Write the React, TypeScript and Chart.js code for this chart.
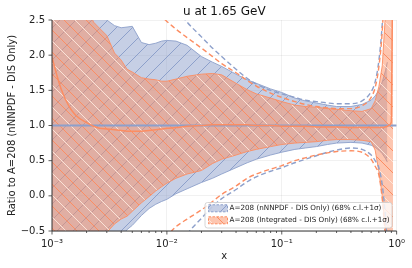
import React, { useEffect, useRef } from 'react';
import { Chart, registerables } from 'chart.js';

Chart.register(...registerables);

const BLUE = '#8da0cb';
const ORANGE = '#fc8d62';
const FONT = '"DejaVu Sans", sans-serif';

const titleText = 'u at 1.65 GeV';
const yTitle = 'Ratio to A=208 (nNNPDF - DIS Only)';
const xTitle = 'x';
const legendLabels = [
  'A=208 (nNNPDF - DIS Only) (68% c.l.+1σ)',
  'A=208 (Integrated - DIS Only) (68% c.l.+1σ)',
];
const xTickValues = [0.001, 0.01, 0.1, 1];
const xTickLabels = ['10⁻³', '10⁻²', '10⁻¹', '10⁰'];
const minorMultipliers = [2, 3, 4, 5, 6, 7, 8, 9];

const xs = [0.001, 0.0011, 0.0012, 0.0014, 0.0016, 0.002, 0.0023, 0.0026, 0.003, 0.0035,
  0.004, 0.0045, 0.005, 0.006, 0.007, 0.008, 0.009, 0.01, 0.012, 0.015,
  0.02, 0.025, 0.03, 0.04, 0.05, 0.06, 0.08, 0.1, 0.13, 0.16,
  0.2, 0.25, 0.3, 0.4, 0.5, 0.6, 0.65, 0.7, 0.75, 0.8,
  0.83, 0.85, 0.9, 0.93, 1.0];

// nNNPDF band (68% c.l.)
const nnUp = [3.2, 3.2, 3.1, 3.0, 2.9, 2.7, 2.6, 2.55, 2.5, 2.42,
  2.39, 2.4, 2.41, 2.18, 2.15, 2.17, 2.2, 2.21, 2.2, 2.14,
  1.98, 1.9, 1.84, 1.73, 1.65, 1.6, 1.52, 1.47, 1.39, 1.35,
  1.32, 1.29, 1.27, 1.27, 1.3, 1.36, 1.42, 1.5, 1.62, 1.78,
  1.9, null, null, null, null];
const nnLo = [-1, -1, -1, -1, -1, -1, -1, -1, -0.9, -0.7,
  -0.6, -0.48, -0.42, -0.28, -0.18, -0.12, -0.08, -0.05, 0.03, 0.1,
  0.19, 0.25, 0.31, 0.4, 0.47, 0.52, 0.58, 0.62, 0.66, 0.68,
  0.7, 0.73, 0.75, 0.76, 0.75, 0.72, 0.69, 0.65, 0.6, 0.53,
  0.48, null, null, null, null];
const nnCentral = [1, 1, 1, 1, 1, 1, 1, 1, 1, 1,
  1, 1, 1, 1, 1, 1, 1, 1, 1, 1,
  1, 1, 1, 1, 1, 1, 1, 1, 1, 1,
  1, 1, 1, 1, 1, 1, 1, 1, 1, 1,
  1, 1, 1, 1, 1];
// nNNPDF +1 sigma
const nnUpSig = [null, null, null, null, null, null, null, null, null, null,
  null, null, null, null, null, 3.12, 2.98, 2.85, 2.68, 2.47,
  2.26, 2.1, 1.98, 1.8, 1.67, 1.59, 1.5, 1.45, 1.4, 1.36,
  1.34, 1.32, 1.31, 1.31, 1.35, 1.48, 1.62, 1.92, 2.45, 3.3,
  null, null, null, null, null];
const nnLoSig = [null, null, null, null, null, null, null, null, null, null,
  null, null, null, null, null, null, null, null, -0.85, -0.55,
  -0.32, -0.15, -0.04, 0.09, 0.2, 0.27, 0.35, 0.4, 0.47, 0.52,
  0.57, 0.62, 0.65, 0.68, 0.66, 0.58, 0.5, 0.4, 0.15, -0.3,
  -0.7, null, null, null, null];

// Integrated band (68% c.l.)
const intUp = [3.5, 3.4, 3.3, 3.1, 2.95, 2.7, 2.47, 2.38, 2.28, 2.03,
  1.93, 1.8, 1.76, 1.68, 1.66, 1.65, 1.63, 1.63, 1.66, 1.7,
  1.73, 1.74, 1.72, 1.6, 1.51, 1.45, 1.39, 1.34, 1.29, 1.27,
  1.26, 1.24, 1.23, 1.21, 1.2, 1.24, 1.35, 1.55, 1.85, 2.6,
  3.5, 4, 4, 4, null];
const intLo = [-1, -1, -1, -1, -1, -1, -1, -1, -0.52, -0.4,
  -0.33, -0.29, -0.22, -0.1, -0.01, 0.07, 0.13, 0.18, 0.25, 0.31,
  0.36, 0.46, 0.52, 0.58, 0.63, 0.66, 0.7, 0.73, 0.75, 0.76,
  0.77, 0.79, 0.8, 0.8, 0.79, 0.77, 0.65, 0.35, 0.0, -0.5,
  -1.5, -2, -2, -2, null];
const intCentral = [1.97, 1.72, 1.52, 1.28, 1.15, 1.04, 0.99, 0.96, 0.95, 0.94,
  0.93, 0.92, 0.92, 0.92, 0.93, 0.94, 0.95, 0.96, 0.97, 0.99,
  1.0, 1.01, 1.01, 1.01, 1.01, 1.0, 1.0, 0.99, 0.99, 0.99,
  0.98, 0.98, 0.98, 0.97, 0.97, 0.97, 0.97, 0.97, 0.97, 0.98,
  0.99, 1.0, 1.05, 4, null];
// Integrated +1 sigma
const intUpSig = [null, null, null, null, null, null, null, null, null, null,
  null, null, null, 2.82, 2.72, 2.63, 2.55, 2.48, 2.37, 2.25,
  2.1, 1.98, 1.88, 1.75, 1.64, 1.56, 1.46, 1.4, 1.34, 1.3,
  1.27, 1.25, 1.24, 1.24, 1.28, 1.4, 1.54, 1.83, 2.35, 3.3,
  null, null, null, null, null];
const intLoSig = [null, null, null, null, null, null, null, null, null, null,
  null, null, null, null, null, null, -0.7, -0.58, -0.44, -0.33,
  -0.2, -0.08, 0.02, 0.14, 0.25, 0.31, 0.38, 0.43, 0.5, 0.54,
  0.58, 0.61, 0.63, 0.64, 0.62, 0.52, 0.42, 0.3, -0.05, -0.6,
  null, null, null, null, null];

type HatchLine = { dir: '/' | '\\'; color: string; width: number; offset: number };

function makeHatch(target: CanvasRenderingContext2D, size: number, fill: string, lines: HatchLine[]) {
  const c = document.createElement('canvas');
  c.width = size;
  c.height = size;
  const g = c.getContext('2d')!;
  g.fillStyle = fill;
  g.fillRect(0, 0, size, size);
  for (const l of lines) {
    g.strokeStyle = l.color;
    g.lineWidth = l.width;
    for (let k = -1; k <= 1; k++) {
      g.beginPath();
      if (l.dir === '/') {
        const c0 = size + l.offset + k * size;
        g.moveTo(-2, c0 + 2);
        g.lineTo(size + 2, c0 - size - 2);
      } else {
        const c0 = l.offset + k * size;
        g.moveTo(-2, c0 - 2);
        g.lineTo(size + 2, c0 + size + 2);
      }
      g.stroke();
    }
  }
  return target.createPattern(c, 'repeat')!;
}

export default function App() {
  const ref = useRef<HTMLCanvasElement>(null);

  useEffect(() => {
    const canvas = ref.current!;
    const ctx0 = canvas.getContext('2d')!;
    const bluePat = makeHatch(ctx0, 16, 'rgba(141,160,203,0.5)', [
      { dir: '/', color: BLUE, width: 1, offset: 0 },
    ]);
    const orangePat = makeHatch(ctx0, 22, 'rgba(252,141,98,0.5)', [
      { dir: '\\', color: ORANGE, width: 1, offset: 0 },
      { dir: '\\', color: 'rgba(255,236,226,0.85)', width: 1, offset: 11 },
    ]);

    const toXY = (ys: (number | null)[]) => xs.map((x, i) => ({ x, y: ys[i] }));
    const band = (ys: (number | null)[], color: string, fill: any, bg: any, order: number) => ({
      data: toXY(ys), borderColor: color, borderWidth: 0.9, pointRadius: 0,
      fill, backgroundColor: bg, tension: 0, order,
    });
    const dashed = (ys: (number | null)[], color: string, order: number) => ({
      data: toXY(ys), borderColor: color, borderWidth: 1.4, borderDash: [5, 3], pointRadius: 0,
      fill: false, cubicInterpolationMode: 'monotone', order,
    });
    const solid = (ys: (number | null)[], color: string, width: number, order: number) => ({
      data: toXY(ys), borderColor: color, borderWidth: width, pointRadius: 0,
      fill: false, cubicInterpolationMode: 'monotone', order,
    });

    const decor = {
      id: 'decor',
      afterDatasetsDraw(chart: any) {
        const { ctx, chartArea: a, scales } = chart;
        const xS = scales.x;
        const yS = scales.y;
        ctx.save();
        ctx.strokeStyle = '#333';
        ctx.lineWidth = 1;
        ctx.beginPath();
        ctx.moveTo(a.left, a.top);
        ctx.lineTo(a.left, a.bottom);
        ctx.lineTo(a.right, a.bottom);
        ctx.stroke();
        ctx.lineWidth = 0.8;
        ctx.beginPath();
        for (const t of yS.ticks) {
          const py = yS.getPixelForValue(t.value);
          ctx.moveTo(a.left - 3.5, py);
          ctx.lineTo(a.left, py);
        }
        for (const v of xTickValues) {
          const px = xS.getPixelForValue(v);
          ctx.moveTo(px, a.bottom);
          ctx.lineTo(px, a.bottom + 3.5);
        }
        for (let d = 0; d < xTickValues.length - 1; d++) {
          for (const m of minorMultipliers) {
            const px = xS.getPixelForValue(xTickValues[d] * m);
            ctx.moveTo(px, a.bottom);
            ctx.lineTo(px, a.bottom + 2);
          }
        }
        ctx.stroke();
        ctx.restore();
      },
      afterDraw(chart: any) {
        const { ctx, chartArea: a } = chart;
        ctx.save();
        ctx.fillStyle = '#111';
        ctx.font = `12px ${FONT}`;
        ctx.textAlign = 'center';
        ctx.textBaseline = 'alphabetic';
        ctx.fillText(titleText, (a.left + a.right) / 2, 15);

        // legend
        const bx = 205, by = 202.5, bw = 187, bh = 25.5, r = 2.5;
        ctx.beginPath();
        ctx.moveTo(bx + r, by);
        ctx.lineTo(bx + bw - r, by);
        ctx.arcTo(bx + bw, by, bx + bw, by + r, r);
        ctx.lineTo(bx + bw, by + bh - r);
        ctx.arcTo(bx + bw, by + bh, bx + bw - r, by + bh, r);
        ctx.lineTo(bx + r, by + bh);
        ctx.arcTo(bx, by + bh, bx, by + bh - r, r);
        ctx.lineTo(bx, by + r);
        ctx.arcTo(bx, by, bx + r, by, r);
        ctx.closePath();
        ctx.fillStyle = 'rgba(255,255,255,0.8)';
        ctx.fill();
        ctx.strokeStyle = '#cccccc';
        ctx.lineWidth = 0.8;
        ctx.stroke();

        const rows = [
          { y: 208.3, pat: bluePat, color: BLUE, text: legendLabels[0] },
          { y: 220.3, pat: orangePat, color: ORANGE, text: legendLabels[1] },
        ];
        for (const row of rows) {
          ctx.fillStyle = row.pat;
          ctx.fillRect(208.5, row.y - 3.5, 19, 7);
          ctx.setLineDash([2.5, 1.5]);
          ctx.strokeStyle = row.color;
          ctx.lineWidth = 1;
          ctx.strokeRect(208.5, row.y - 3.5, 19, 7);
          ctx.setLineDash([]);
          ctx.fillStyle = '#222';
          ctx.font = `7.2px ${FONT}`;
          ctx.textAlign = 'left';
          ctx.textBaseline = 'middle';
          ctx.fillText(row.text, 229.5, row.y);
        }
        ctx.restore();
      },
    };

    const chart = new Chart(canvas, {
      type: 'line',
      data: {
        datasets: [
          band(nnUp, BLUE, '+1', bluePat, 20) as any,
          band(nnLo, BLUE, false, 'transparent', 19) as any,
          band(intUp, ORANGE, '+1', orangePat, 18) as any,
          band(intLo, ORANGE, false, 'transparent', 17) as any,
          dashed(nnUpSig, BLUE, 10) as any,
          dashed(nnLoSig, BLUE, 10) as any,
          dashed(intUpSig, ORANGE, 9) as any,
          dashed(intLoSig, ORANGE, 9) as any,
          solid(nnCentral, BLUE, 2, 2) as any,
          solid(intCentral, ORANGE, 1.5, 1) as any,
        ],
      },
      options: {
        responsive: false,
        animation: false,
        devicePixelRatio: 1,
        events: [],
        layout: { padding: { top: 20, right: 15, left: 0, bottom: 0 } },
        plugins: {
          legend: { display: false },
          tooltip: { enabled: false },
          title: { display: false },
        },
        scales: {
          x: {
            type: 'logarithmic',
            min: 0.001,
            max: 1,
            afterBuildTicks: (s: any) => {
              s.ticks = xTickValues.map((v) => ({ value: v, major: true }));
            },
            afterFit: (s: any) => {
              s.height = 37;
            },
            ticks: {
              autoSkip: false,
              maxRotation: 0,
              padding: 7,
              color: '#222',
              font: { family: FONT, size: 10 },
              callback: (_v: any, i: number) => xTickLabels[i],
            },
            grid: { color: 'rgba(0,0,0,0.07)', lineWidth: 0.8, drawTicks: false },
            border: { display: false },
            title: {
              display: true, text: xTitle, color: '#222',
              font: { family: FONT, size: 10 }, padding: { top: 0, bottom: 6 },
            },
          },
          y: {
            type: 'linear',
            min: -0.5,
            max: 2.5,
            afterFit: (s: any) => {
              s.width = 52;
            },
            ticks: {
              stepSize: 0.5,
              padding: 7,
              color: '#222',
              font: { family: FONT, size: 10 },
              callback: (v: any) => (v < 0 ? '−' : '') + Math.abs(Number(v)).toFixed(1),
            },
            grid: { color: 'rgba(0,0,0,0.07)', lineWidth: 0.8, drawTicks: false },
            border: { display: false },
            title: {
              display: true, text: yTitle, color: '#222',
              font: { family: FONT, size: 10 }, padding: { top: 6, bottom: 0 },
            },
          },
        },
      },
      plugins: [decor],
    } as any);

    return () => chart.destroy();
  }, []);

  return (
    <div style={{ position: 'fixed', left: 0, top: 0, width: 412, height: 268, background: '#fff' }}>
      <canvas ref={ref} width={412} height={268} style={{ width: 412, height: 268, display: 'block' }} />
    </div>
  );
}
